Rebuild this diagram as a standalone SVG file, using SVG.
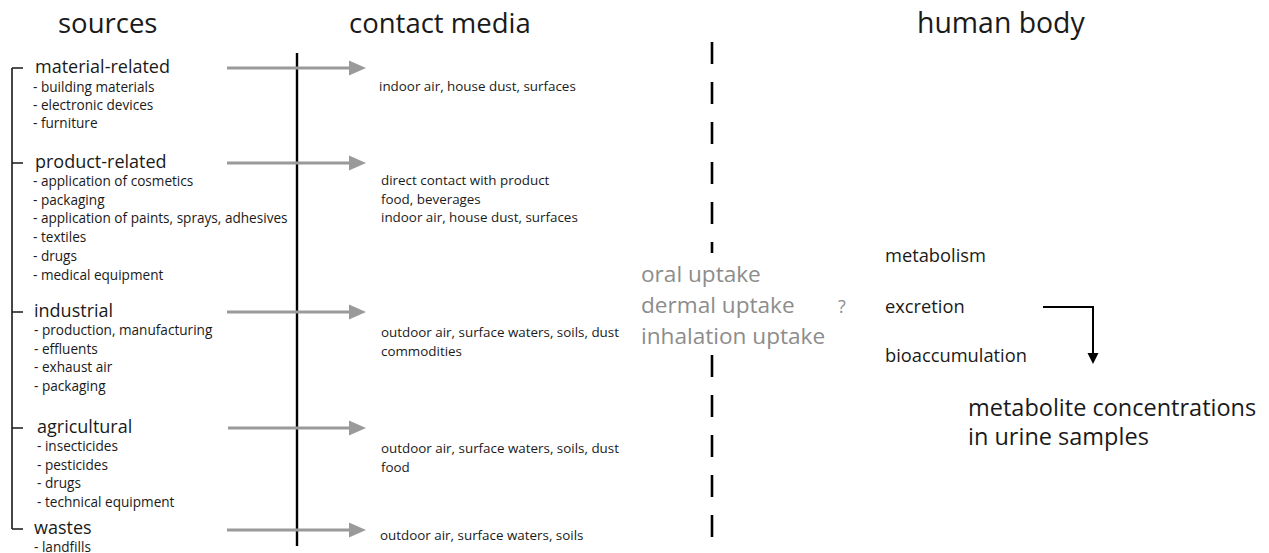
<svg xmlns="http://www.w3.org/2000/svg" width="1269" height="553" viewBox="0 0 1269 553">
<defs>
<style>
text{font-family:"Open Sans","Liberation Sans",sans-serif;fill:#1a1a1a}
.title{font-size:27.5px}
.head{font-size:18px}
.item{font-size:13.6px}
.media{font-size:13.4px}
.uptake{font-size:22.6px;fill:#8c8c8c}
.body{font-size:18.3px}
.result{font-size:23.5px}
.garrow{stroke:#9a9a9a;stroke-width:3;fill:none}
.bracket{stroke:#1a1a1a;stroke-width:1.6;fill:none}
</style>
<marker id="gh" markerUnits="userSpaceOnUse" markerWidth="18" markerHeight="16" refX="2" refY="8" orient="auto">
<polygon points="0,0.5 17,8 0,15.5" fill="#9a9a9a"/>
</marker>
</defs>
<rect width="1269" height="553" fill="#fff"/>

<g id="titles">
<text class="title" x="58" y="33">sources</text>
<text class="title" x="349" y="33">contact media</text>
<text class="title" x="917" y="33" style="font-size:28.4px">human body</text>
</g>

<g id="connectors">
<path class="bracket" d="M12,68 V529 M12,68 H23 M12,163 H23 M12,312 H23 M12,428 H23 M12,529 H23"/>
<line x1="297" y1="53" x2="297" y2="546" stroke="#000" stroke-width="2.4"/>
<line class="garrow" x1="227" y1="68" x2="351" y2="68" marker-end="url(#gh)"/>
<line class="garrow" x1="227" y1="163" x2="351" y2="163" marker-end="url(#gh)"/>
<line class="garrow" x1="227" y1="312" x2="351" y2="312" marker-end="url(#gh)"/>
<line class="garrow" x1="228" y1="428" x2="351" y2="428" marker-end="url(#gh)"/>
<line class="garrow" x1="227" y1="530" x2="351" y2="530" marker-end="url(#gh)"/>
<line x1="712" y1="42" x2="712" y2="253" stroke="#000" stroke-width="2.6" stroke-dasharray="22 18"/>
<line x1="712" y1="355" x2="712" y2="537" stroke="#000" stroke-width="2.6" stroke-dasharray="22 18"/>
<path d="M1043,307 H1093 V354" stroke="#000" stroke-width="2" fill="none"/>
<polygon points="1087.5,353 1098.5,353 1093,364" fill="#000"/>
</g>

<g id="material">
<text class="head" x="35" y="73">material-related</text>
<text class="item" x="33" y="92">- building materials</text>
<text class="item" x="33" y="110">- electronic devices</text>
<text class="item" x="33" y="128">- furniture</text>
</g>
<g id="product">
<text class="head" x="35" y="168">product-related</text>
<text class="item" x="33" y="186">- application of cosmetics</text>
<text class="item" x="33" y="204.7">- packaging</text>
<text class="item" x="33" y="223.4">- application of paints, sprays, adhesives</text>
<text class="item" x="33" y="242.1">- textiles</text>
<text class="item" x="33" y="260.8">- drugs</text>
<text class="item" x="33" y="279.5">- medical equipment</text>
</g>
<g id="industrial">
<text class="head" x="34" y="317">industrial</text>
<text class="item" x="34" y="335">- production, manufacturing</text>
<text class="item" x="34" y="353.7">- effluents</text>
<text class="item" x="34" y="372.4">- exhaust air</text>
<text class="item" x="34" y="391.1">- packaging</text>
</g>
<g id="agricultural">
<text class="head" x="37" y="433">agricultural</text>
<text class="item" x="37" y="451">- insecticides</text>
<text class="item" x="37" y="469.7">- pesticides</text>
<text class="item" x="37" y="488.4">- drugs</text>
<text class="item" x="37" y="507.1">- technical equipment</text>
</g>
<g id="wastes">
<text class="head" x="34" y="534">wastes</text>
<text class="item" x="34" y="552">- landfills</text>
</g>

<g id="media-material">
<text class="media" x="379" y="91">indoor air, house dust, surfaces</text>
</g>
<g id="media-product">
<text class="media" x="381" y="185">direct contact with product</text>
<text class="media" x="381" y="203.5">food, beverages</text>
<text class="media" x="381" y="222">indoor air, house dust, surfaces</text>
</g>
<g id="media-industrial">
<text class="media" x="381" y="337">outdoor air, surface waters, soils, dust</text>
<text class="media" x="381" y="355.5">commodities</text>
</g>
<g id="media-agricultural">
<text class="media" x="381" y="453">outdoor air, surface waters, soils, dust</text>
<text class="media" x="381" y="471.5">food</text>
</g>
<g id="media-wastes">
<text class="media" x="380" y="540">outdoor air, surface waters, soils</text>
</g>

<g id="uptake">
<text class="uptake" x="641" y="282">oral uptake</text>
<text class="uptake" x="641" y="313">dermal uptake</text>
<text class="uptake" x="641" y="344">inhalation uptake</text>
<text class="uptake" x="838" y="313" style="font-size:18px">?</text>
</g>

<g id="body">
<text class="body" x="885" y="262">metabolism</text>
<text class="body" x="885" y="313">excretion</text>
<text class="body" x="885" y="362">bioaccumulation</text>
</g>

<g id="result">
<text class="result" x="968" y="416">metabolite concentrations</text>
<text class="result" x="968" y="445">in urine samples</text>
</g>
</svg>
